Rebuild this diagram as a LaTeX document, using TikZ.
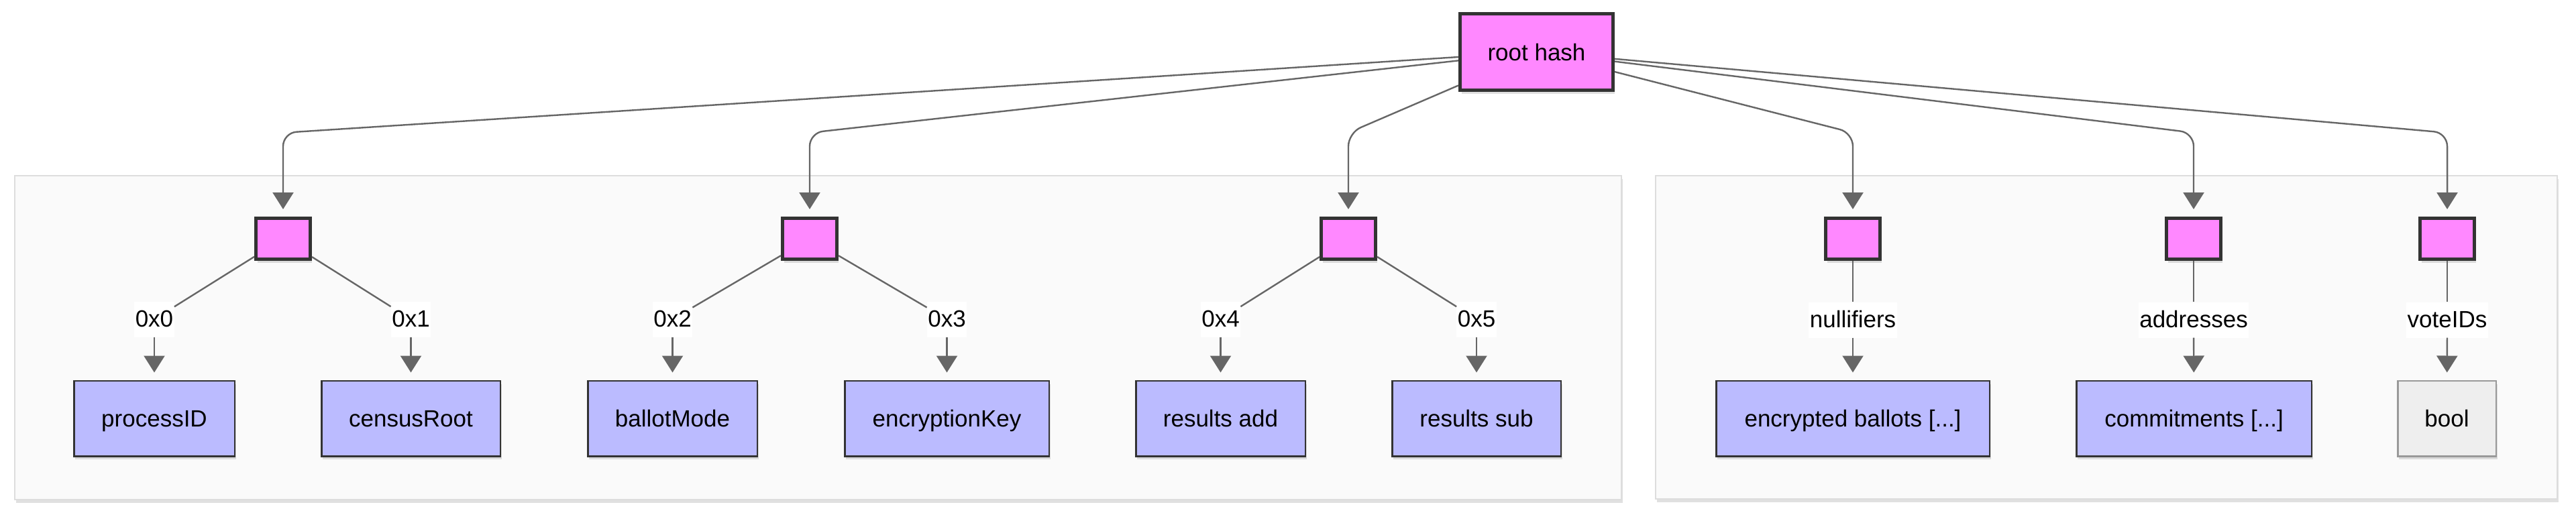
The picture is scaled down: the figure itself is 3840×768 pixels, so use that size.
\documentclass[tikz,border=0pt]{standalone}
\usepackage{fontspec}
\setmainfont{Liberation Sans}
\usetikzlibrary{arrows.meta,shadows}
\definecolor{pinkf}{HTML}{FF88FF}
\definecolor{bluef}{HTML}{BBBBFF}
\definecolor{strk}{HTML}{333333}
\definecolor{edgec}{HTML}{666666}
\definecolor{contf}{HTML}{FAFAFA}
\definecolor{contd}{HTML}{DDDDDD}
\definecolor{boolf}{HTML}{EEEEEE}
\definecolor{boold}{HTML}{999999}
\begin{document}
\begin{tikzpicture}[x=1pt,y=-1pt,
  font=\fontsize{35}{42}\selectfont,
  shad/.style={drop shadow={shadow xshift=2pt,shadow yshift=-5pt,opacity=0.12,fill=black}},
  hashnode/.style={draw=strk,line width=5pt,fill=pinkf,inner sep=0pt,shad},
  smallhash/.style={hashnode,minimum width=81pt,minimum height=61pt},
  leafbox/.style={draw=strk,line width=2.5pt,fill=bluef,inner sep=0pt,minimum height=112.5pt,text height=25pt,text depth=0pt,shad},
  boolbox/.style={leafbox,draw=boold,fill=boolf},
  lbl/.style={fill=white,inner xsep=1.5pt,inner ysep=0pt,minimum height=53pt,text height=25pt,text depth=3pt},
  container/.style={draw=contd,line width=2pt,fill=contf,shad},
  edgeline/.style={draw=edgec,line width=2.4pt},
  arr/.style={edgeline,-{Triangle[width=31pt,length=25pt]},shorten >=11pt},
  rootarr/.style={arr,rounded corners=20pt}
]
\useasboundingbox (0,0) rectangle (3840,768);
\fill[white] (0,0) rectangle (3840,768);

% containers
\draw[container] (22,262) rectangle (2417,745);
\draw[container] (2468,262) rectangle (3812,744);

% root
\node[hashnode,minimum width=228pt,minimum height=114pt,text height=25pt,text depth=0pt] (root) at (2290.5,77.5) {root hash};

% intermediate hash nodes
\node[smallhash] (p1) at (422,356) {};
\node[smallhash] (p2) at (1207,356) {};
\node[smallhash] (p3) at (2010,356) {};
\node[smallhash] (pn) at (2762,356) {};
\node[smallhash] (pa) at (3270,356) {};
\node[smallhash] (pv) at (3648,356) {};

% edge labels
\node[lbl] (l0) at (230,476) {0x0};
\node[lbl] (l1) at (612.5,476) {0x1};
\node[lbl] (l2) at (1002.5,476) {0x2};
\node[lbl] (l3) at (1411.5,476) {0x3};
\node[lbl] (l4) at (1819.5,476) {0x4};
\node[lbl] (l5) at (2201,476) {0x5};
\node[lbl] (ln) at (2762,477) {nullifiers};
\node[lbl] (la) at (3270,477) {addresses};
\node[lbl] (lv) at (3648,477) {voteIDs};

% leaves
\node[leafbox,minimum width=239.5pt] (b0) at (230,624) {processID};
\node[leafbox,minimum width=266.5pt] (b1) at (612.5,624) {censusRoot};
\node[leafbox,minimum width=252.5pt] (b2) at (1002.5,624) {ballotMode};
\node[leafbox,minimum width=304.5pt] (b3) at (1411.5,624) {encryptionKey};
\node[leafbox,minimum width=252.5pt] (b4) at (1819.5,624) {results add};
\node[leafbox,minimum width=251.5pt] (b5) at (2201,624) {results sub};
\node[leafbox,minimum width=407.5pt] (bn) at (2762,624) {encrypted ballots [...]};
\node[leafbox,minimum width=350.5pt] (ba) at (3270.5,624) {commitments [...]};
\node[boolbox,minimum width=146.5pt] (bv) at (3647.5,624) {bool};

% root edges
\draw[rootarr] (root) -- (422,198) -- (p1);
\draw[rootarr] (root) -- (1207,198) -- (p2);
\draw[rootarr] (root) -- (2010,198) -- (p3);
\draw[rootarr] (root) -- (2762,198) -- (pn);
\draw[rootarr] (root) -- (3270,198) -- (pa);
\draw[rootarr] (root) -- (3648,198) -- (pv);

% hash to labels
\draw[edgeline] (p1) -- (l0);
\draw[edgeline] (p1) -- (l1);
\draw[edgeline] (p2) -- (l2);
\draw[edgeline] (p2) -- (l3);
\draw[edgeline] (p3) -- (l4);
\draw[edgeline] (p3) -- (l5);
\draw[edgeline] (pn) -- (ln);
\draw[edgeline] (pa) -- (la);
\draw[edgeline] (pv) -- (lv);

% labels to leaves
\draw[arr] (l0) -- (b0);
\draw[arr] (l1) -- (b1);
\draw[arr] (l2) -- (b2);
\draw[arr] (l3) -- (b3);
\draw[arr] (l4) -- (b4);
\draw[arr] (l5) -- (b5);
\draw[arr] (ln) -- (bn);
\draw[arr] (la) -- (ba);
\draw[arr] (lv) -- (bv);
\end{tikzpicture}
\end{document}
